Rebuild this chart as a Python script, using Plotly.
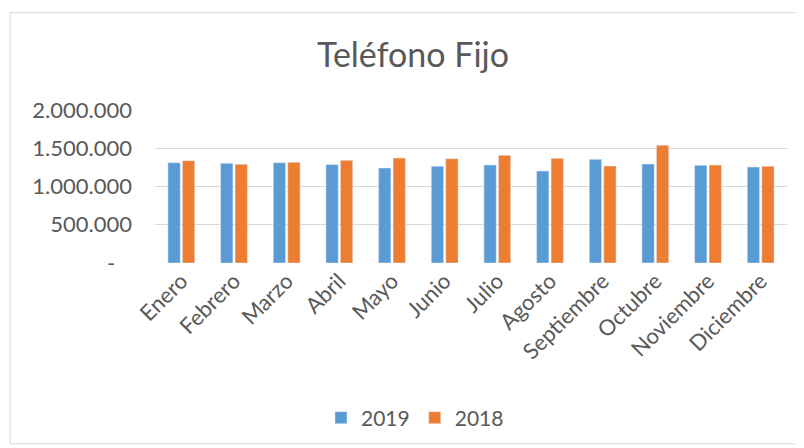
import plotly.graph_objects as go

months = ["Enero", "Febrero", "Marzo", "Abril", "Mayo", "Junio", "Julio",
          "Agosto", "Septiembre", "Octubre", "Noviembre", "Diciembre"]
values_2019 = [1312000, 1303000, 1312000, 1286000, 1242000, 1264000, 1281000,
               1203000, 1355000, 1294000, 1277000, 1255000]
values_2018 = [1338000, 1290000, 1316000, 1342000, 1372000, 1364000, 1407000,
               1368000, 1268000, 1540000, 1281000, 1264000]
tick_vals = [0, 500000, 1000000, 1500000, 2000000]
tick_text = ["-\u00a0\u00a0\u00a0", "500.000", "1.000.000", "1.500.000", "2.000.000"]

FONT = "Lato"
GRAY = "#595959"

fig = go.Figure()
fig.add_trace(go.Bar(name="2019", x=months, y=values_2019, marker_color="#5B9BD5"))
fig.add_trace(go.Bar(name="2018", x=months, y=values_2018, marker_color="#ED7D31"))

OFF = 8  # page body margin
W, H = 804 - OFF, 448 - OFF
L = 155 - OFF
R = W - (787 - OFF)
T = 110 - OFF
B = H - (264 - OFF)
pw = W - L - R
ph = H - T - B

def px_x(x):
    return (x - OFF - L) / pw

def px_y(y):
    return (H - B - (y - OFF)) / ph

fig.update_layout(
    width=W, height=H,
    margin=dict(l=L, r=R, t=T, b=B),
    paper_bgcolor="white", plot_bgcolor="white",
    barmode="group", bargap=0.45, bargroupgap=0.15,
    font=dict(family=FONT, color=GRAY, size=22),
    title=dict(text="Teléfono Fijo", x=px_x(413), xref="paper", xanchor="center",
               y=1 - (55 - OFF) / H, yanchor="middle",
               font=dict(family=FONT, size=34, color=GRAY)),
    showlegend=True,
    legend=dict(orientation="h", x=px_x(415), xanchor="center", y=px_y(418),
                yanchor="middle", font=dict(size=21, color=GRAY),
                itemwidth=30, bgcolor="rgba(0,0,0,0)"),
    xaxis=dict(tickangle=-45, showgrid=False, showline=False, ticks="",
               tickfont=dict(size=22, color=GRAY)),
    yaxis=dict(range=[0, 2000000], tickvals=tick_vals, ticktext=tick_text,
               showgrid=True, gridcolor="#D9D9D9", gridwidth=1, zeroline=False,
               showline=False, ticks="", ticklabelstandoff=22,
               tickfont=dict(size=22, color=GRAY)),
    shapes=[dict(type="rect", xref="paper", yref="paper",
                 x0=px_x(10), x1=px_x(797), y0=px_y(446), y1=px_y(12),
                 line=dict(color="#D9D9D9", width=1), fillcolor="rgba(0,0,0,0)",
                 layer="below")],
)

fig.write_html("out.html")
